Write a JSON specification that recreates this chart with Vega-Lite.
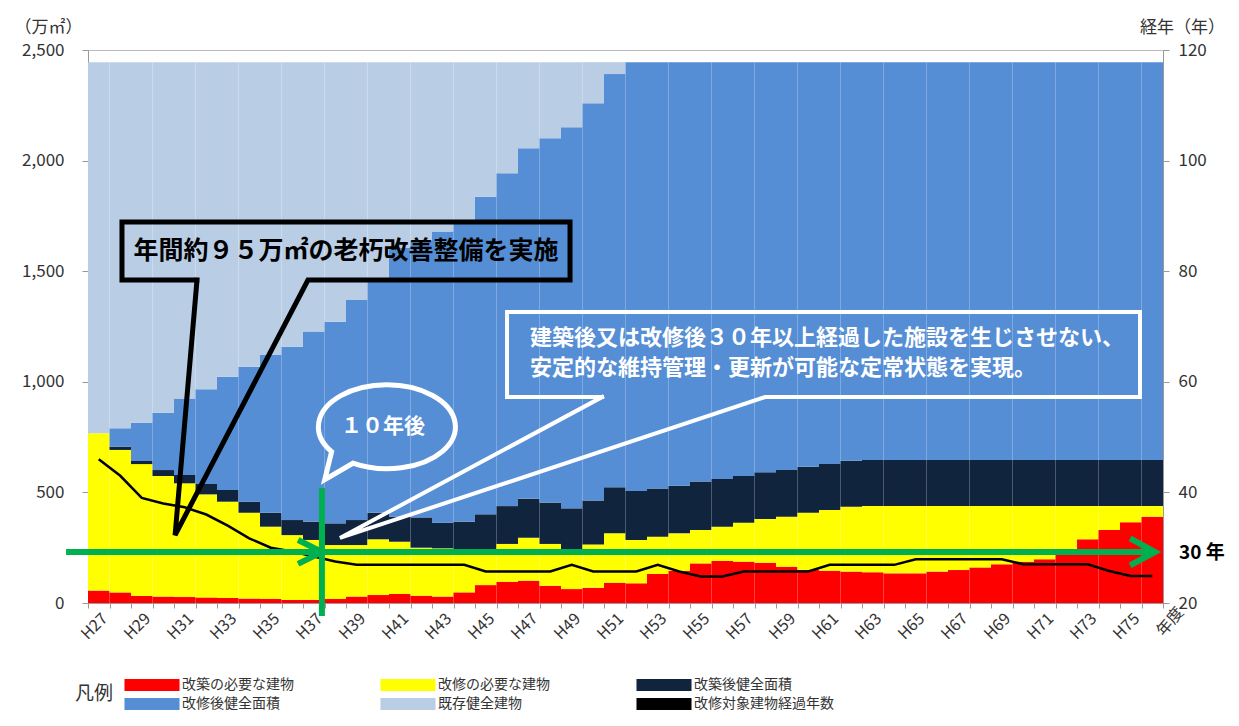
{
  "$schema": "https://vega.github.io/schema/vega-lite/v6.json",
  "width": 1075,
  "height": 553,
  "autosize": {"type": "none"},
  "padding": {"left": 88, "top": 50, "right": 76, "bottom": 123},
  "background": "white",
  "config": {
    "font": "Noto Sans CJK JP",
    "view": {"stroke": "#bbbbbb"},
    "axis": {"grid": false, "domainColor": "#999999", "tickColor": "#999999", "labelColor": "#333333", "titleColor": "#333333", "labelFont": "Noto Sans CJK JP", "titleFont": "Noto Sans CJK JP"}
  },
  "datasets": {
    "main": [
      {"yr": "H27", "a": 56, "b": 711, "c": 0, "d": 0, "e": 1678, "age": 46},
      {"yr": "H28", "a": 48, "b": 644, "c": 15, "d": 83, "e": 1655, "age": 43},
      {"yr": "H29", "a": 32, "b": 596, "c": 14, "d": 173, "e": 1630, "age": 39},
      {"yr": "H30", "a": 29, "b": 545, "c": 27, "d": 259, "e": 1585, "age": 38},
      {"yr": "H31", "a": 27, "b": 514, "c": 38, "d": 346, "e": 1520, "age": 37.3},
      {"yr": "H32", "a": 25, "b": 466, "c": 47, "d": 428, "e": 1479, "age": 36},
      {"yr": "H33", "a": 23, "b": 435, "c": 53, "d": 512, "e": 1422, "age": 34},
      {"yr": "H34", "a": 20, "b": 388, "c": 50, "d": 610, "e": 1377, "age": 31.7},
      {"yr": "H35", "a": 18, "b": 327, "c": 63, "d": 713, "e": 1324, "age": 30},
      {"yr": "H36", "a": 14, "b": 293, "c": 68, "d": 784, "e": 1286, "age": 29.3},
      {"yr": "H37", "a": 14, "b": 271, "c": 83, "d": 859, "e": 1218, "age": 28.4},
      {"yr": "H38", "a": 18, "b": 244, "c": 98, "d": 912, "e": 1173, "age": 27.5},
      {"yr": "H39", "a": 29, "b": 233, "c": 113, "d": 995, "e": 1075, "age": 26.9},
      {"yr": "H40", "a": 36, "b": 252, "c": 120, "d": 1062, "e": 975, "age": 26.9},
      {"yr": "H41", "a": 41, "b": 236, "c": 113, "d": 1215, "e": 840, "age": 26.9},
      {"yr": "H42", "a": 33, "b": 217, "c": 137, "d": 1253, "e": 805, "age": 26.9},
      {"yr": "H43", "a": 29, "b": 218, "c": 116, "d": 1317, "e": 765, "age": 26.9},
      {"yr": "H44", "a": 48, "b": 169, "c": 151, "d": 1354, "e": 723, "age": 26.9},
      {"yr": "H45", "a": 81, "b": 149, "c": 171, "d": 1436, "e": 608, "age": 25.7},
      {"yr": "H46", "a": 96, "b": 171, "c": 171, "d": 1505, "e": 502, "age": 25.7},
      {"yr": "H47", "a": 101, "b": 194, "c": 177, "d": 1584, "e": 389, "age": 25.7},
      {"yr": "H48", "a": 78, "b": 189, "c": 187, "d": 1647, "e": 344, "age": 25.7},
      {"yr": "H49", "a": 63, "b": 177, "c": 188, "d": 1723, "e": 294, "age": 26.9},
      {"yr": "H50", "a": 69, "b": 196, "c": 198, "d": 1796, "e": 186, "age": 25.7},
      {"yr": "H51", "a": 92, "b": 223, "c": 208, "d": 1868, "e": 54, "age": 25.7},
      {"yr": "H52", "a": 89, "b": 196, "c": 221, "d": 1939, "e": 0, "age": 25.7},
      {"yr": "H53", "a": 131, "b": 169, "c": 218, "d": 1927, "e": 0, "age": 26.9},
      {"yr": "H54", "a": 145, "b": 170, "c": 215, "d": 1915, "e": 0, "age": 25.7},
      {"yr": "H55", "a": 179, "b": 151, "c": 219, "d": 1896, "e": 0, "age": 24.8},
      {"yr": "H56", "a": 190, "b": 155, "c": 216, "d": 1884, "e": 0, "age": 24.8},
      {"yr": "H57", "a": 187, "b": 176, "c": 211, "d": 1871, "e": 0, "age": 25.7},
      {"yr": "H58", "a": 182, "b": 198, "c": 211, "d": 1854, "e": 0, "age": 25.7},
      {"yr": "H59", "a": 164, "b": 226, "c": 211, "d": 1844, "e": 0, "age": 25.7},
      {"yr": "H60", "a": 149, "b": 259, "c": 208, "d": 1829, "e": 0, "age": 25.7},
      {"yr": "H61", "a": 146, "b": 274, "c": 208, "d": 1817, "e": 0, "age": 26.9},
      {"yr": "H62", "a": 142, "b": 293, "c": 208, "d": 1802, "e": 0, "age": 26.9},
      {"yr": "H63", "a": 139, "b": 299, "c": 208, "d": 1799, "e": 0, "age": 26.9},
      {"yr": "H64", "a": 134, "b": 304, "c": 208, "d": 1799, "e": 0, "age": 26.9},
      {"yr": "H65", "a": 134, "b": 304, "c": 208, "d": 1799, "e": 0, "age": 27.9},
      {"yr": "H66", "a": 142, "b": 296, "c": 208, "d": 1799, "e": 0, "age": 27.9},
      {"yr": "H67", "a": 149, "b": 289, "c": 208, "d": 1799, "e": 0, "age": 27.9},
      {"yr": "H68", "a": 161, "b": 277, "c": 208, "d": 1799, "e": 0, "age": 27.9},
      {"yr": "H69", "a": 175, "b": 263, "c": 208, "d": 1799, "e": 0, "age": 27.9},
      {"yr": "H70", "a": 187, "b": 251, "c": 208, "d": 1799, "e": 0, "age": 27},
      {"yr": "H71", "a": 198, "b": 240, "c": 208, "d": 1799, "e": 0, "age": 27},
      {"yr": "H72", "a": 225, "b": 213, "c": 208, "d": 1799, "e": 0, "age": 27},
      {"yr": "H73", "a": 288, "b": 150, "c": 208, "d": 1799, "e": 0, "age": 27},
      {"yr": "H74", "a": 330, "b": 108, "c": 208, "d": 1799, "e": 0, "age": 25.8},
      {"yr": "H75", "a": 365, "b": 73, "c": 208, "d": 1799, "e": 0, "age": 24.9},
      {"yr": "H76", "a": 390, "b": 48, "c": 208, "d": 1799, "e": 0, "age": 24.9}
    ],
    "box1": [
      {"t": 31.57, "v": 1460, "o": 1},
      {"t": 28.08, "v": 1460, "o": 2},
      {"t": 28.08, "v": 1722, "o": 3},
      {"t": 48.92, "v": 1722, "o": 4},
      {"t": 48.92, "v": 1460, "o": 5},
      {"t": 36.73, "v": 1460, "o": 6},
      {"t": 30.55, "v": 307, "o": 7},
      {"t": 31.57, "v": 1460, "o": 8}
    ],
    "box2": [
      {"t": 50.41, "v": 931, "o": 1},
      {"t": 45.99, "v": 931, "o": 2},
      {"t": 45.99, "v": 1316, "o": 3},
      {"t": 75.43, "v": 1316, "o": 4},
      {"t": 75.43, "v": 931, "o": 5},
      {"t": 57.99, "v": 931, "o": 6},
      {"t": 38.22, "v": 294, "o": 7},
      {"t": 50.41, "v": 931, "o": 8}
    ],
    "green": [
      {"g": "h", "t": 25.48, "v": 231, "o": 1},
      {"g": "h", "t": 76.05, "v": 231, "o": 2},
      {"g": "vl", "t": 37.38, "v": 520, "o": 1},
      {"g": "vl", "t": 37.38, "v": -59, "o": 2},
      {"g": "c1", "t": 36.27, "v": 285, "o": 1},
      {"g": "c1", "t": 37.38, "v": 231, "o": 2},
      {"g": "c1", "t": 36.27, "v": 177, "o": 3},
      {"g": "c2", "t": 74.97, "v": 292, "o": 1},
      {"g": "c2", "t": 76.13, "v": 231, "o": 2},
      {"g": "c2", "t": 74.97, "v": 170, "o": 3}
    ]
  },
  "resolve": {"scale": {"x": "independent", "y": "independent"}},
  "layer": [
    {
      "data": {"name": "main"},
      "transform": [{"fold": ["a", "b", "c", "d", "e"], "as": ["k", "val"]}],
      "mark": {"type": "bar"},
      "encoding": {
        "x": {
          "field": "yr", "type": "nominal", "sort": null,
          "scale": {"type": "band", "paddingInner": 0, "paddingOuter": 0},
          "axis": {
            "title": "年度", "titleAngle": -50, "titleX": 1092, "titleY": 6, "titleAlign": "right", "titleBaseline": "middle",
            "titleFontSize": 16, "titleFontWeight": "normal",
            "labelAngle": -45, "labelFontSize": 16, "labelOverlap": false, "labelPadding": 2,
            "labelExpr": "toNumber(substring(datum.value, 1)) % 2 == 1 ? datum.label : ''",
            "tickSize": 5, "tickBand": "extent"
          }
        },
        "y": {
          "field": "val", "type": "quantitative", "stack": "zero",
          "scale": {"domain": [0, 2500], "nice": false},
          "axis": {
            "title": "（万㎡）", "titleAngle": 0, "titleX": -40, "titleY": -23, "titleAlign": "center", "titleBaseline": "middle",
            "titleFontSize": 17, "titleFontWeight": "normal",
            "values": [0, 500, 1000, 1500, 2000, 2500], "format": ",.0f", "labelFontSize": 17, "labelPadding": 18, "tickSize": 6
          }
        },
        "color": {
          "field": "k", "type": "nominal",
          "scale": {"domain": ["a", "b", "c", "d", "e", "f"], "range": ["#FF0000", "#FFFF00", "#10243E", "#558ED5", "#B9CDE5", "#000000"]},
          "legend": {
            "orient": "none", "legendX": -13, "legendY": 627, "columns": 3, "direction": "horizontal",
            "title": "凡例", "titleOrient": "left", "titleFontSize": 19, "titleFontWeight": "normal", "titleColor": "#333333", "titlePadding": 30,
            "titleBaseline": "middle",
            "labelExpr": "datum.label == 'a' ? '改築の必要な建物' : datum.label == 'b' ? '改修の必要な建物' : datum.label == 'c' ? '改築後健全面積' : datum.label == 'd' ? '改修後健全面積' : datum.label == 'e' ? '既存健全建物' : '改修対象建物経過年数'",
            "labelFontSize": 14, "labelColor": "#333333", "labelOffset": 22, "labelLimit": 300,
            "symbolType": "M-3.44,-0.75H3.44V0.75H-3.44Z", "symbolSize": 256, "symbolStrokeWidth": 0, "symbolOpacity": 1,
            "columnPadding": 86, "rowPadding": 4
          }
        },
        "order": {"field": "k", "sort": "ascending"}
      }
    },
    {
      "data": {"name": "main"},
      "mark": {"type": "line", "strokeWidth": 2.5},
      "encoding": {
        "x": {"field": "yr", "type": "nominal", "sort": null, "scale": {"type": "band", "paddingInner": 0, "paddingOuter": 0}, "axis": null},
        "y": {
          "field": "age", "type": "quantitative",
          "scale": {"domain": [20, 120], "nice": false, "zero": false},
          "axis": {
            "orient": "right", "title": "経年（年）", "titleAngle": 0, "titleX": 19, "titleY": -23, "titleAlign": "center", "titleBaseline": "middle",
            "titleFontSize": 17, "titleFontWeight": "normal",
            "values": [20, 40, 60, 80, 100, 120], "labelFontSize": 17, "labelPadding": 9, "tickSize": 6
          }
        },
        "color": {"datum": "f", "type": "nominal"}
      }
    },
    {
      "data": {"name": "green"},
      "mark": {"type": "line", "color": "#00B050", "strokeWidth": 6, "clip": false, "strokeCap": "butt", "strokeJoin": "miter"},
      "encoding": {
        "x": {"field": "t", "type": "quantitative", "scale": {"domain": [26.5, 76.5], "nice": false, "zero": false}, "axis": null},
        "y": {"field": "v", "type": "quantitative", "scale": {"domain": [0, 2500], "nice": false, "zero": false}, "axis": null},
        "detail": {"field": "g"},
        "order": {"field": "o"}
      }
    },
    {
      "data": {"name": "box1"},
      "mark": {"type": "line", "color": "#000000", "strokeWidth": 5, "clip": false, "strokeJoin": "miter", "strokeCap": "square"},
      "encoding": {
        "x": {"field": "t", "type": "quantitative", "scale": {"domain": [26.5, 76.5], "nice": false, "zero": false}, "axis": null},
        "y": {"field": "v", "type": "quantitative", "scale": {"domain": [0, 2500], "nice": false, "zero": false}, "axis": null},
        "order": {"field": "o"}
      }
    },
    {
      "data": {"name": "box2"},
      "mark": {"type": "line", "color": "#FFFFFF", "strokeWidth": 4, "clip": false, "strokeJoin": "miter", "strokeCap": "square"},
      "encoding": {
        "x": {"field": "t", "type": "quantitative", "scale": {"domain": [26.5, 76.5], "nice": false, "zero": false}, "axis": null},
        "y": {"field": "v", "type": "quantitative", "scale": {"domain": [0, 2500], "nice": false, "zero": false}, "axis": null},
        "order": {"field": "o"}
      }
    },
    {
      "data": {"values": [{"t": 40.38, "v": 796}]},
      "mark": {"type": "point", "shape": "M -0.8 0.36 L -0.9 0.77 L -0.49 0.53 A 1 0.613 0 1 0 -0.8 0.36 Z", "size": 18769, "filled": false, "stroke": "#FFFFFF", "strokeWidth": 5, "opacity": 1, "clip": false},
      "encoding": {
        "x": {"field": "t", "type": "quantitative", "scale": {"domain": [26.5, 76.5], "nice": false, "zero": false}, "axis": null},
        "y": {"field": "v", "type": "quantitative", "scale": {"domain": [0, 2500], "nice": false, "zero": false}, "axis": null}
      }
    },
    {
      "data": {"values": [{"t": 38.5, "v": 1591, "txt": "年間約９５万㎡の老朽改善整備を実施"}]},
      "mark": {"type": "text", "fontSize": 25, "fontWeight": "bold", "color": "#000000", "align": "center", "baseline": "middle", "clip": false},
      "encoding": {
        "x": {"field": "t", "type": "quantitative", "scale": {"domain": [26.5, 76.5], "nice": false, "zero": false}, "axis": null},
        "y": {"field": "v", "type": "quantitative", "scale": {"domain": [0, 2500], "nice": false, "zero": false}, "axis": null},
        "text": {"field": "txt"}
      }
    },
    {
      "data": {"values": [
        {"t": 47.06, "v": 1198, "txt": "建築後又は改修後３０年以上経過した施設を生じさせない、"},
        {"t": 47.06, "v": 1062, "txt": "安定的な維持管理・更新が可能な定常状態を実現。"}
      ]},
      "mark": {"type": "text", "fontSize": 22, "fontWeight": "bold", "color": "#FFFFFF", "align": "left", "baseline": "middle", "clip": false},
      "encoding": {
        "x": {"field": "t", "type": "quantitative", "scale": {"domain": [26.5, 76.5], "nice": false, "zero": false}, "axis": null},
        "y": {"field": "v", "type": "quantitative", "scale": {"domain": [0, 2500], "nice": false, "zero": false}, "axis": null},
        "text": {"field": "txt"}
      }
    },
    {
      "data": {"values": [{"t": 40.22, "v": 796, "txt": "１０年後"}]},
      "mark": {"type": "text", "fontSize": 21, "fontWeight": "bold", "color": "#FFFFFF", "align": "center", "baseline": "middle", "clip": false},
      "encoding": {
        "x": {"field": "t", "type": "quantitative", "scale": {"domain": [26.5, 76.5], "nice": false, "zero": false}, "axis": null},
        "y": {"field": "v", "type": "quantitative", "scale": {"domain": [0, 2500], "nice": false, "zero": false}, "axis": null},
        "text": {"field": "txt"}
      }
    },
    {
      "data": {"values": [{"t": 78.31, "v": 226, "txt": "30 年"}]},
      "mark": {"type": "text", "fontSize": 19, "fontWeight": "bold", "color": "#000000", "align": "center", "baseline": "middle", "clip": false},
      "encoding": {
        "x": {"field": "t", "type": "quantitative", "scale": {"domain": [26.5, 76.5], "nice": false, "zero": false}, "axis": null},
        "y": {"field": "v", "type": "quantitative", "scale": {"domain": [0, 2500], "nice": false, "zero": false}, "axis": null},
        "text": {"field": "txt"}
      }
    }
  ]
}
